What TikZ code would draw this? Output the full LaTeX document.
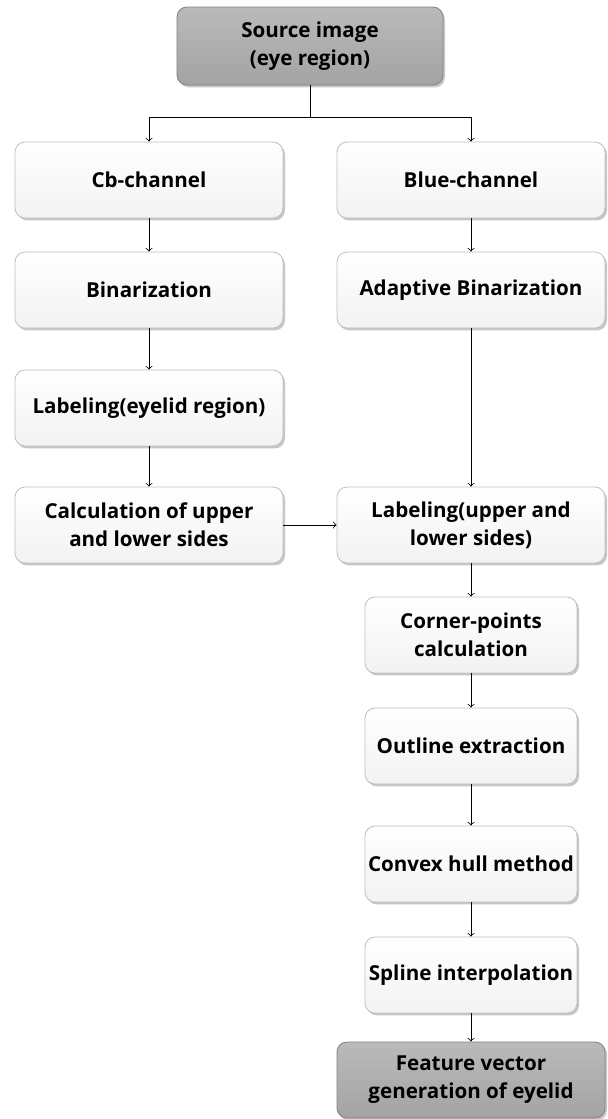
\documentclass[tikz,border=0pt]{standalone}
\usepackage{fontspec}
\setmainfont{Open Sans}
\usepackage{tikz}
\usetikzlibrary{shadows}

\begin{document}
\begin{tikzpicture}[x=0.5pt,y=-0.5pt]
\tikzstyle{every node}+=[font=\bfseries\fontsize{10.3}{14}\selectfont, align=center]
\tikzstyle{stage}=[draw=black!25, rounded corners=5pt, minimum width=134pt, minimum height=38pt,
  top color=white, bottom color=black!5, drop shadow={opacity=0.45, shadow xshift=1pt, shadow yshift=-1.2pt}]
\tikzstyle{narrow}=[stage, minimum width=106pt, inner xsep=0.5pt]
\tikzstyle{ends}=[stage, draw=black!50, top color=black!27, bottom color=black!36]
\tikzstyle{flow}=[->, thin]
\useasboundingbox (0,0) rectangle (608,1119);
% source
\node [ends, minimum width=133pt, minimum height=39pt] (src) at (310,46) {Source image\\(eye region)};
\coordinate (split) at (310,117);
% left branch
\node [stage] (cb) at (149,180) {Cb-channel};
\node [stage] (bin) at (149,290) {Binarization};
\node [stage] (lab1) at (149,408) {Labeling(eyelid region)};
\node [stage] (calc) at (149,525) {Calculation of upper\\and lower sides};
% right branch
\node [stage] (blue) at (471,180) {Blue-channel};
\node [stage] (abin) at (471,290) {Adaptive Binarization};
\node [stage] (lab2) at (471,525) {Labeling(upper and\\lower sides)};
\node [narrow] (corner) at (471,635) {Corner-points\\calculation};
\node [narrow] (outline) at (471,746) {Outline extraction};
\node [narrow] (hull) at (471,864) {Convex hull method};
\node [narrow] (spline) at (471,975) {Spline interpolation};
\node [ends] (feat) at (471,1080) {Feature vector\\generation of eyelid};
% connectors
\draw [thin] (src) -- (split);
\draw [flow] (split) -| (cb);
\draw [flow] (split) -| (blue);
\draw [flow] (cb) -- (bin);
\draw [flow] (bin) -- (lab1);
\draw [flow] (lab1) -- (calc);
\draw [flow] (calc) -- (lab2);
\draw [flow] (blue) -- (abin);
\draw [flow] (abin) -- (lab2);
\draw [flow] (lab2) -- (corner);
\draw [flow] (corner) -- (outline);
\draw [flow] (outline) -- (hull);
\draw [flow] (hull) -- (spline);
\draw [flow] (spline) -- (feat);
\end{tikzpicture}
\end{document}
